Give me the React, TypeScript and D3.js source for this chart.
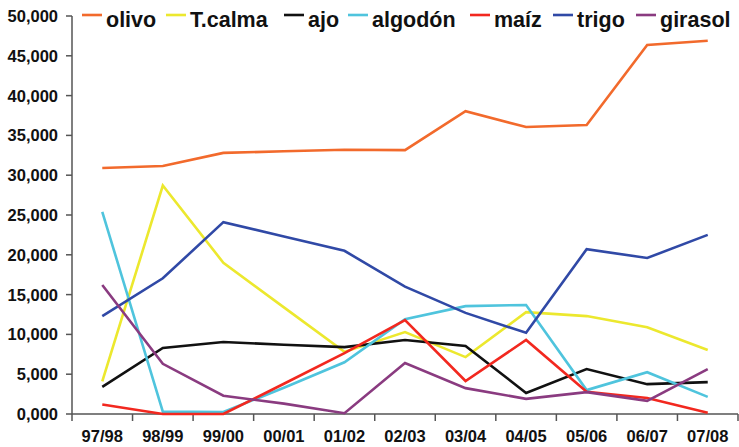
import React from 'react';
import * as d3 from 'd3';

// campaigns (x categories)
const seasons = ['97/98', '98/99', '99/00', '00/01', '01/02', '02/03', '03/04', '04/05', '05/06', '06/07', '07/08'];

// values
const olivo = [30900, 31150, 32800, 33000, 33200, 33150, 38050, 36050, 36300, 46350, 46900];
const tcalma = [4100, 28700, 19000, 13400, 7800, 10300, 7150, 12800, 12300, 10900, 8050];
const ajo = [3400, 8300, 9050, 8700, 8400, 9300, 8550, 2650, 5650, 3750, 4000];
const algodon = [25400, 300, 250, 3300, 6500, 11900, 13550, 13700, 3000, 5250, 2150];
const maiz = [1200, 0, 0, 3800, 7650, 11800, 4150, 9300, 2800, 2000, 150];
const trigo = [12300, 17050, 24100, 22300, 20500, 16000, 12700, 10200, 20700, 19600, 22500];
const girasol = [16200, 6300, 2300, 1300, 100, 6400, 3250, 1900, 2750, 1650, 5650];

const yTicks = [0, 5000, 10000, 15000, 20000, 25000, 30000, 35000, 40000, 45000, 50000];
const yTickLabels = ['0,000', '5,000', '10,000', '15,000', '20,000', '25,000', '30,000', '35,000', '40,000', '45,000', '50,000'];

const series = [
  { name: 'olivo', values: olivo, color: '#f26a2c', lx: 82 },
  { name: 'T.calma', values: tcalma, color: '#ece82e', lx: 166 },
  { name: 'ajo', values: ajo, color: '#111111', lx: 284 },
  { name: 'algodón', values: algodon, color: '#4fc4dd', lx: 348 },
  { name: 'maíz', values: maiz, color: '#f2281f', lx: 470 },
  { name: 'trigo', values: trigo, color: '#3049a6', lx: 553 },
  { name: 'girasol', values: girasol, color: '#8a3b80', lx: 636 },
];

const W = 739;
const H = 447;
const left = 72;
const right = 738;
const top = 16;
const bottom = 414;
const font = '"Liberation Sans", Arial, sans-serif';

export default function App() {
  const x = d3.scaleBand().domain(seasons).range([left, right]).padding(0);
  const y = d3.scaleLinear().domain([0, 50000]).range([bottom, top]);
  const line = d3.line<number>()
    .x((_, i) => x(seasons[i])! + x.bandwidth() / 2)
    .y(d => y(d));

  const boundaries = seasons.map(s => x(s)!).concat([right]);

  return (
    <svg width={W} height={H} style={{ position: 'absolute', left: 0, top: 0, background: '#fff' }}>
      {/* y axis */}
      <line x1={left} x2={left} y1={top} y2={bottom} stroke="#555" strokeWidth={1.5} />
      {yTicks.map((t, i) => (
        <g key={t}>
          <line x1={left - 6} x2={left} y1={y(t)} y2={y(t)} stroke="#555" strokeWidth={1.5} />
          <text x={58} y={y(t)} dy="0.36em" textAnchor="end" fontFamily={font} fontWeight="bold" fontSize={16.5} fill="#111">
            {yTickLabels[i]}
          </text>
        </g>
      ))}
      {/* x axis */}
      <line x1={left} x2={right} y1={bottom} y2={bottom} stroke="#555" strokeWidth={1.5} />
      {boundaries.map((b, i) => (
        <line key={i} x1={b} x2={b} y1={bottom} y2={bottom + 7} stroke="#555" strokeWidth={1.5} />
      ))}
      {seasons.map(s => (
        <text key={s} x={x(s)! + x.bandwidth() / 2} y={442} textAnchor="middle" fontFamily={font} fontWeight="bold" fontSize={16.5} fill="#111">
          {s}
        </text>
      ))}
      {/* lines */}
      {series.map(s => (
        <path key={s.name} d={line(s.values)!} fill="none" stroke={s.color} strokeWidth={2.6} strokeLinejoin="miter" />
      ))}
      {/* legend */}
      {series.map(s => (
        <g key={s.name + '-leg'}>
          <line x1={s.lx} x2={s.lx + 20} y1={15} y2={15} stroke={s.color} strokeWidth={2.6} />
          <text x={s.lx + 24} y={27} fontFamily={font} fontWeight="bold" fontSize={21.5} fill="#111">
            {s.name}
          </text>
        </g>
      ))}
    </svg>
  );
}
